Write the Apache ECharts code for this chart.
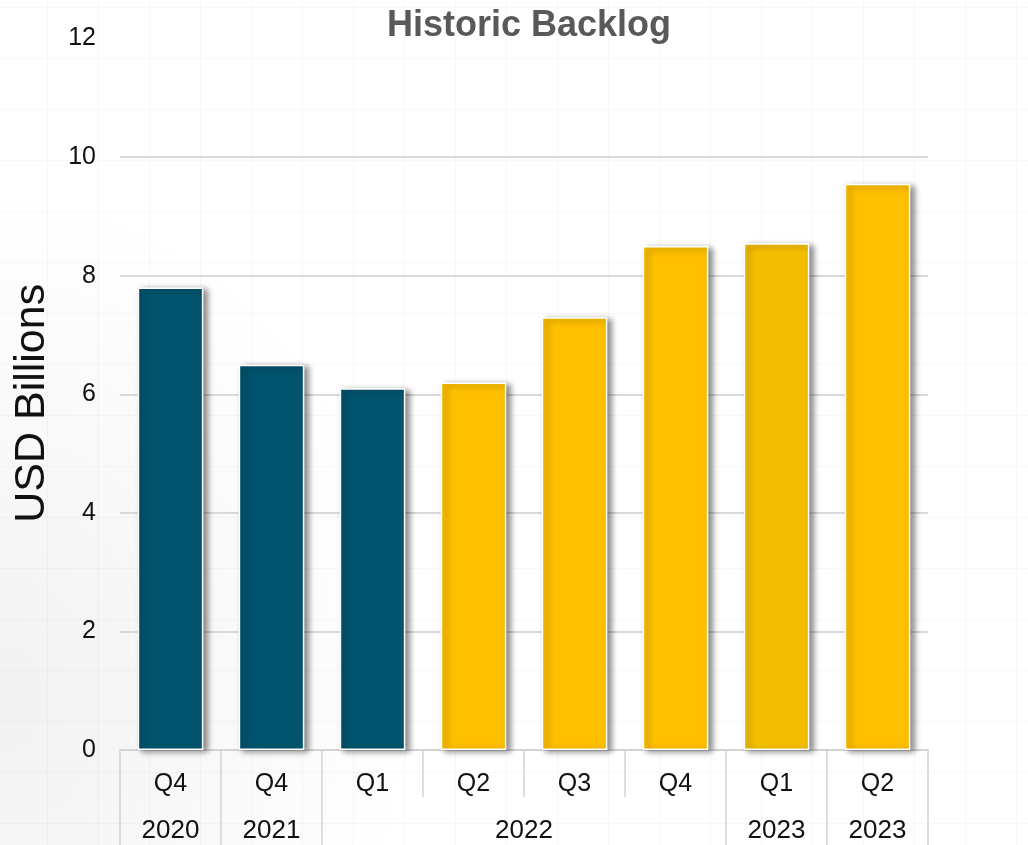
<!DOCTYPE html>
<html>
<head>
<meta charset="utf-8">
<title>Historic Backlog</title>
<script src="https://cdn.jsdelivr.net/npm/echarts@6/dist/echarts.min.js"></script>
<style>
  html, body { margin: 0; padding: 0; }
  body {
    width: 1028px; height: 845px; overflow: hidden;
    background-color: #ffffff;
    background-image:
      radial-gradient(ellipse 420px 520px at 0px 700px, rgba(0,0,0,0.05), rgba(0,0,0,0) 100%),
      linear-gradient(to right, rgba(0,0,0,0.028) 1px, transparent 1px),
      linear-gradient(to bottom, rgba(0,0,0,0.028) 1px, transparent 1px);
    background-size: 100% 100%, 51px 51px, 51px 51px;
    background-position: 0 0, -4px 0, 0 -44px;
  }
  #chart { width: 1028px; height: 845px; }
</style>
</head>
<body>
<div id="chart"></div>
<script>
// Backlog per quarter, USD billions
const quarters = ['Q4', 'Q4', 'Q1', 'Q2', 'Q3', 'Q4', 'Q1', 'Q2'];
const backlog = [7.8, 6.5, 6.1, 6.2, 7.3, 8.5, 8.55, 9.55];
const barColors = ['#02546E', '#02546E', '#02546E', '#FFC000', '#FFC000', '#FFC000', '#F4BE00', '#FFC000'];

// Second label row: year groups and how many quarters each spans
const yearLabels = ['2020', '2021', '2022', '2023', '2023'];
const yearSpans = [1, 1, 4, 1, 1];

const yTicks = [0, 2, 4, 6, 8, 10, 12];

// The year row lives on a half-step category axis (2 slots per quarter + 1),
// so a group label sits at its span's middle and ticks sit on group edges.
const halfSlots = quarters.length * 2 + 1;
const yearSlots = new Array(halfSlots).fill('');
const yearEdge = new Array(halfSlots).fill(false);
let start = 0;
yearLabels.forEach((label, i) => {
  const end = start + yearSpans[i];
  yearSlots[start + end] = label;
  yearEdge[start * 2] = true;
  yearEdge[end * 2] = true;
  start = end;
});
// unique keys keep every slot distinct on the ordinal scale
const yearKeys = yearSlots.map((v, i) => 'k' + i);

const font = '"Liberation Sans", Arial, sans-serif';
const chart = echarts.init(document.getElementById('chart'), null, { renderer: 'canvas' });

chart.setOption({
  backgroundColor: 'transparent',
  animation: false,
  title: {
    text: 'Historic Backlog',
    left: 524,
    top: 3,
    textAlign: 'center',
    textStyle: { fontFamily: font, fontSize: 36, fontWeight: 'bold', color: '#595959' }
  },
  grid: { left: 120, right: 100, top: 38.6, bottom: 95, containLabel: false },
  xAxis: [
    {
      type: 'category',
      data: quarters.map((q, i) => q + '|' + i),
      position: 'bottom',
      boundaryGap: true,
      axisLine: { show: true, lineStyle: { color: '#d4d4d4', width: 2 } },
      axisTick: { show: true, interval: 0, length: 47, lineStyle: { color: '#d4d4d4', width: 1.5 } },
      axisLabel: {
        interval: 0,
        margin: 22,
        fontFamily: font,
        fontSize: 25,
        color: '#111',
        formatter: v => v.split('|')[0]
      },
      splitLine: { show: false }
    },
    {
      type: 'category',
      data: yearKeys,
      position: 'bottom',
      offset: 47,
      boundaryGap: false,
      axisLine: { show: false },
      axisTick: {
        show: true,
        length: 52,
        interval: idx => yearEdge[idx],
        lineStyle: { color: '#d4d4d4', width: 1.5 }
      },
      axisLabel: {
        interval: idx => yearSlots[idx] !== '',
        margin: 21,
        fontFamily: font,
        fontSize: 26,
        color: '#111',
        formatter: (v, idx) => yearSlots[idx]
      },
      splitLine: { show: false }
    }
  ],
  yAxis: {
    type: 'value',
    min: yTicks[0],
    max: yTicks[yTicks.length - 1],
    interval: yTicks[1] - yTicks[0],
    name: 'USD Billions',
    nameLocation: 'middle',
    nameGap: 66,
    nameRotate: 90,
    nameTextStyle: { fontFamily: font, fontSize: 43, color: '#111', padding: [0, 18, 0, 0] },
    axisLine: { show: false },
    axisTick: { show: false },
    axisLabel: { margin: 24, fontFamily: font, fontSize: 25, color: '#111' },
    splitLine: { show: true, showMaxLine: false, lineStyle: { color: '#d9d9d9', width: 2 } }
  },
  series: [
    {
      type: 'bar',
      xAxisIndex: 0,
      barWidth: '65%',
      data: backlog.map((v, i) => ({
        value: v,
        itemStyle: { color: barColors[i] }
      })),
      itemStyle: {
        borderColor: '#ffffff',
        borderWidth: 1.5,
        shadowColor: 'rgba(0,0,0,0.45)',
        shadowBlur: 6,
        shadowOffsetX: 4,
        shadowOffsetY: 2
      }
    }
  ]
});
</script>
</body>
</html>
